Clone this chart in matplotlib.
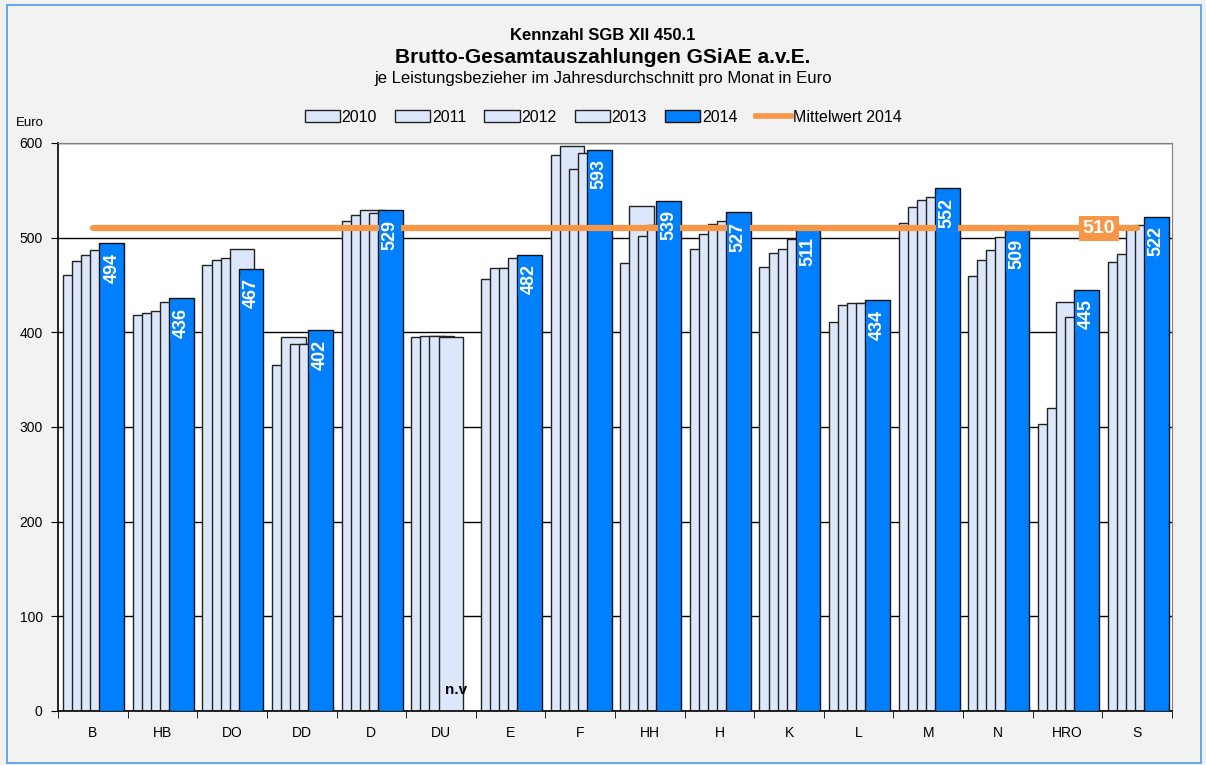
import numpy as np
import matplotlib
matplotlib.use("Agg")
import matplotlib.pyplot as plt
from matplotlib.patches import Rectangle, Patch
from matplotlib.lines import Line2D

plt.rcParams['font.family'] = ['Liberation Sans', 'DejaVu Sans']

# data
cities = ['B', 'HB', 'DO', 'DD', 'D', 'DU', 'E', 'F', 'HH', 'H', 'K', 'L', 'M', 'N', 'HRO', 'S']
years = ['2010', '2011', '2012', '2013', '2014']
v2010 = [461, 418, 471, 366, 518, 395, 456, 587, 473, 488, 469, 411, 515, 460, 303, 474]
v2011 = [475, 420, 476, 395, 524, 396, 468, 597, 533, 504, 484, 429, 532, 476, 320, 483]
v2012 = [482, 423, 479, 388, 529, 396, 468, 572, 502, 514, 488, 431, 540, 487, 432, 509]
v2013 = [487, 432, 488, 388, 526, 395, 479, 589, 513, 518, 499, 431, 543, 501, 416, 513]
v2014 = [494, 436, 467, 402, 529, None, 482, 593, 539, 527, 511, 434, 552, 509, 445, 522]
mean2014 = 510

light = '#DDE7FB'
blue = '#0080FF'
orange = '#F79646'

fig = plt.figure(figsize=(12.06, 7.65), dpi=100)
fig.patch.set_facecolor('#F2F2F2')
fig.patches.append(Rectangle((0.006, 0.003), 0.99, 0.99, transform=fig.transFigure,
                             fill=False, edgecolor='#4A9BEA', lw=1.2))

ax = fig.add_axes([0.0481, 0.0706, 0.9237, 0.7425])
ax.set_facecolor('white')

x = np.arange(len(cities))
width = 0.355
step = 0.13
first = -0.425
for k, vals in enumerate([v2010, v2011, v2012, v2013]):
    ax.bar(x + first + k * step, vals, width=width, align='edge', color=light,
           edgecolor='#222222', linewidth=1.0, zorder=2 + k * 0.1)

for i, v in enumerate(v2014):
    left = x[i] + first + 4 * step
    if v is None:
        ax.text(left + width / 2 - 0.06, 22, 'n.v', ha='center', va='center',
                fontsize=11, fontweight='bold', zorder=6)
        continue
    ax.bar(left, v, width=width, align='edge', color=blue, edgecolor='#111111',
           linewidth=1.0, zorder=3)

ax.plot([x[0], x[-1]], [mean2014, mean2014], color=orange, lw=4.5,
        solid_capstyle='round', zorder=4)

for i, v in enumerate(v2014):
    if v is None:
        continue
    ax.text(x[i] + first + 4 * step + width / 2, v - 10, str(v), rotation=90,
            ha='center', va='top', color='white', fontsize=13, fontweight='bold',
            zorder=5, bbox=dict(boxstyle='square,pad=0.15', fc=blue, ec='none'))

ax.text(14.45, mean2014, str(mean2014), ha='center', va='center', color='white',
        fontsize=14, fontweight='bold', zorder=7,
        bbox=dict(boxstyle='square,pad=0.2', fc=orange, ec='none'))

ax.set_xlim(-0.5, len(cities) - 0.5)
ax.set_ylim(0, 600)
ax.set_yticks(range(0, 601, 100))
ax.set_xticks(x)
ax.set_xticklabels(cities, fontsize=10)
ax.set_xticks(np.arange(-0.5, len(cities), 1), minor=True)
ax.tick_params(axis='x', which='major', length=0, pad=11)
ax.tick_params(axis='x', which='minor', length=5, direction='out', color='black')
ax.tick_params(axis='y', length=5, direction='out', labelsize=10, pad=6)
ax.yaxis.grid(True, color='black', lw=1.0, zorder=0)
ax.set_axisbelow(True)
for s in ['top', 'right']:
    ax.spines[s].set_color('#808080')
for s in ['left', 'bottom']:
    ax.spines[s].set_color('black')
    ax.spines[s].set_linewidth(1.2)

fig.text(0.013, 0.835, 'Euro', fontsize=9.5)
fig.text(0.5, 0.953, 'Kennzahl SGB XII 450.1', ha='center', va='center',
         fontsize=12, fontweight='bold')
fig.text(0.5, 0.925, 'Brutto-Gesamtauszahlungen GSiAE a.v.E.', ha='center', va='center',
         fontsize=15, fontweight='bold')
fig.text(0.5, 0.897, 'je Leistungsbezieher im Jahresdurchschnitt pro Monat in Euro',
         ha='center', va='center', fontsize=12)

handles = [Patch(fc=light, ec='#222222', label=y) for y in years[:4]]
handles.append(Patch(fc=blue, ec='#111111', label=years[4]))
handles.append(Line2D([0], [0], color=orange, lw=4, label='Mittelwert 2014'))
fig.legend(handles=handles, loc='center', bbox_to_anchor=(0.5, 0.847), ncol=6,
           frameon=False, fontsize=11.5, handlelength=2.2, handleheight=0.7,
           handletextpad=0.1, columnspacing=1.15)

fig.savefig('out.png', dpi=100, facecolor=fig.get_facecolor())
